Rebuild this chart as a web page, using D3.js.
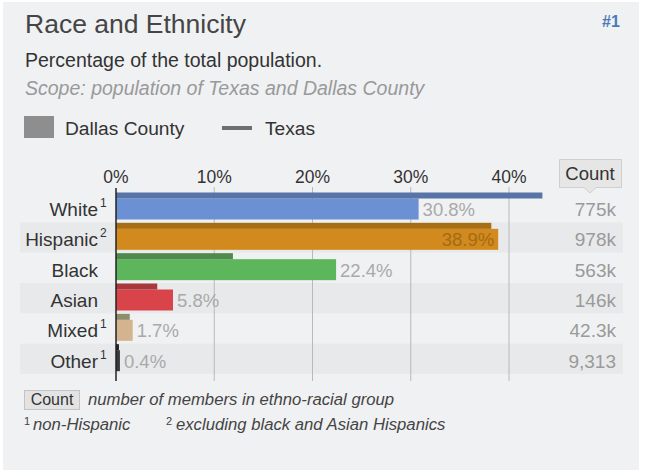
<!DOCTYPE html>
<html>
<head>
<meta charset="utf-8">
<script src="https://cdn.jsdelivr.net/npm/d3@7"></script>
<style>
  html, body { margin: 0; padding: 0; background: #ffffff; }
  svg { display: block; font-family: "Liberation Sans", Arial, sans-serif; }
</style>
</head>
<body>
<div id="chart"></div>
<script>
// Data
const groups = ['White', 'Hispanic', 'Black', 'Asian', 'Mixed', 'Other'];
const notes = ['1', '2', '', '', '1', '1'];
const dallasPct = [30.8, 38.9, 22.4, 5.8, 1.7, 0.4];
const texasPct = [43.4, 38.2, 11.9, 4.2, 1.4, 0.3];
const counts = ['775k', '978k', '563k', '146k', '42.3k', '9,313'];
const ticks = [0, 10, 20, 30, 40];

const dallasColors = ['#6b90d4', '#d2891d', '#5db65b', '#d8444a', '#d3b48e', '#3a3a3a'];
const texasColors = ['#5873a6', '#a86e14', '#4f8a4c', '#a8383c', '#8f8c6c', '#222222'];

const W = 646, H = 474;
const svg = d3.select('#chart').append('svg')
    .attr('width', W)
    .attr('height', H);

// panel background
svg.append('rect')
    .attr('x', 3).attr('y', 2)
    .attr('width', W - 10).attr('height', H - 6)
    .attr('fill', '#f0f1f3');

// header
svg.append('text')
    .attr('x', 25).attr('y', 33)
    .attr('font-size', 26.5)
    .attr('fill', '#454545')
    .text('Race and Ethnicity');

svg.append('text')
    .attr('x', 602).attr('y', 27)
    .attr('font-size', 16)
    .attr('font-weight', 'bold')
    .attr('fill', '#4a79b8')
    .text('#1');

svg.append('text')
    .attr('x', 25).attr('y', 67)
    .attr('font-size', 19.5)
    .attr('fill', '#333')
    .text('Percentage of the total population.');

svg.append('text')
    .attr('x', 25).attr('y', 95)
    .attr('font-size', 19.5)
    .attr('font-style', 'italic')
    .attr('fill', '#999')
    .text('Scope: population of Texas and Dallas County');

// legend
svg.append('rect')
    .attr('x', 24).attr('y', 116)
    .attr('width', 30).attr('height', 22)
    .attr('fill', '#8e8e8e');
svg.append('text')
    .attr('x', 65).attr('y', 135)
    .attr('font-size', 19.2)
    .attr('fill', '#333')
    .text('Dallas County');
svg.append('rect')
    .attr('x', 222).attr('y', 126)
    .attr('width', 30).attr('height', 4)
    .attr('fill', '#6e6e6e');
svg.append('text')
    .attr('x', 265).attr('y', 135)
    .attr('font-size', 19.2)
    .attr('fill', '#333')
    .text('Texas');

// scales
const x = d3.scaleLinear().domain([0, 40]).range([116, 509]);
const y = d3.scaleBand().domain(groups).range([192, 374]).padding(0);
const bh = y.bandwidth();

// alternating row bands
svg.append('g').selectAll('rect')
    .data(groups.filter((d, i) => i % 2 === 1))
    .join('rect')
    .attr('x', 20)
    .attr('y', d => y(d))
    .attr('width', 603)
    .attr('height', bh)
    .attr('fill', '#e8e9eb');

// gridlines
svg.append('g').selectAll('line')
    .data(ticks.slice(1))
    .join('line')
    .attr('x1', d => x(d)).attr('x2', d => x(d))
    .attr('y1', 187).attr('y2', 381)
    .attr('stroke', '#b9b9b9')
    .attr('stroke-width', 1);

// tick labels
svg.append('g').selectAll('text')
    .data(ticks)
    .join('text')
    .attr('x', d => x(d))
    .attr('y', 183)
    .attr('text-anchor', 'middle')
    .attr('font-size', 17.5)
    .attr('fill', '#333')
    .text(d => d + '%');

const rows = groups.map((g, i) => ({
    g, note: notes[i], d: dallasPct[i], t: texasPct[i], count: counts[i], i
}));

// Dallas bars
svg.append('g').selectAll('rect')
    .data(rows)
    .join('rect')
    .attr('x', x(0))
    .attr('y', d => y(d.g) + 6.5)
    .attr('width', d => Math.max(x(d.d) - x(0), 2))
    .attr('height', 21)
    .attr('fill', d => dallasColors[d.i]);

// Texas bars
svg.append('g').selectAll('rect')
    .data(rows)
    .join('rect')
    .attr('x', x(0))
    .attr('y', d => y(d.g) + 0.5)
    .attr('width', d => Math.max(x(d.t) - x(0), 2))
    .attr('height', 6)
    .attr('fill', d => texasColors[d.i]);

// zero axis line
svg.append('line')
    .attr('x1', x(0)).attr('x2', x(0))
    .attr('y1', 188).attr('y2', 381)
    .attr('stroke', '#222')
    .attr('stroke-width', 1.5);

// value labels
svg.append('g').selectAll('text')
    .data(rows)
    .join('text')
    .attr('x', d => d.d > 35 ? x(d.d) - 4 : x(d.d) + 4)
    .attr('y', d => y(d.g) + 24)
    .attr('text-anchor', d => d.d > 35 ? 'end' : 'start')
    .attr('font-size', 18.5)
    .attr('fill', d => d.d > 35 ? '#a36c15' : '#a9a9a9')
    .text(d => d.d + '%');

// row labels
const lab = svg.append('g').selectAll('g')
    .data(rows)
    .join('g');
lab.append('text')
    .attr('x', 98)
    .attr('y', d => y(d.g) + 24)
    .attr('text-anchor', 'end')
    .attr('font-size', 19)
    .attr('fill', '#333')
    .text(d => d.g);
lab.append('text')
    .attr('x', 100)
    .attr('y', d => y(d.g) + 15)
    .attr('font-size', 12)
    .attr('fill', '#333')
    .text(d => d.note);

// count column
const hdr = svg.append('g');
hdr.append('path')
    .attr('d', 'M559.5,159.5 H621.5 V187.5 H596 L590,193 L584,187.5 H559.5 Z')
    .attr('fill', '#e6e6e6')
    .attr('stroke', '#cfcfcf');
hdr.append('text')
    .attr('x', 590).attr('y', 180)
    .attr('text-anchor', 'middle')
    .attr('font-size', 18.5)
    .attr('fill', '#333')
    .text('Count');

svg.append('g').selectAll('text')
    .data(rows)
    .join('text')
    .attr('x', 616)
    .attr('y', d => y(d.g) + 24)
    .attr('text-anchor', 'end')
    .attr('font-size', 19)
    .attr('fill', '#9a9a9a')
    .text(d => d.count);

// footer
svg.append('rect')
    .attr('x', 24.5).attr('y', 390.5)
    .attr('width', 55).attr('height', 19)
    .attr('fill', '#e3e3e3')
    .attr('stroke', '#c4c4c4');
svg.append('text')
    .attr('x', 52).attr('y', 405)
    .attr('text-anchor', 'middle')
    .attr('font-size', 16)
    .attr('fill', '#333')
    .text('Count');
svg.append('text')
    .attr('x', 88).attr('y', 405)
    .attr('font-size', 16.7)
    .attr('font-style', 'italic')
    .attr('fill', '#444')
    .text('number of members in ethno-racial group');

const foot = svg.append('text')
    .attr('y', 430)
    .attr('font-size', 16.7)
    .attr('font-style', 'italic')
    .attr('fill', '#444');
foot.append('tspan').attr('x', 24).attr('dy', -5).attr('font-size', 11).attr('font-style', 'normal').text('1');
foot.append('tspan').attr('x', 33).attr('dy', 5).text('non-Hispanic');
foot.append('tspan').attr('x', 166).attr('dy', -5).attr('font-size', 11).attr('font-style', 'normal').text('2');
foot.append('tspan').attr('x', 176).attr('dy', 5).text('excluding black and Asian Hispanics');
</script>
</body>
</html>
